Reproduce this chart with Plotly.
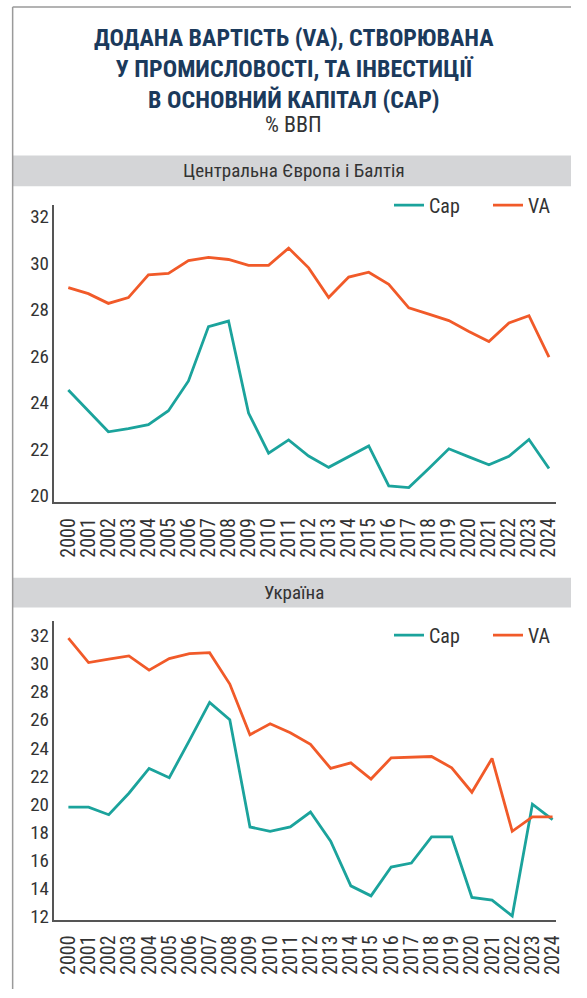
import plotly.graph_objects as go

# Years on the horizontal axis
years = list(range(2000, 2025))

# Central Europe and the Baltics, % of GDP
ceb_cap = [24.54, 23.65, 22.74, 22.88, 23.05, 23.65, 24.93, 27.27, 27.51, 23.55,
           21.82, 22.39, 21.70, 21.21, 21.66, 22.13, 20.41, 20.34, 21.16, 22.01,
           21.66, 21.32, 21.69, 22.41, 21.16]
ceb_va = [28.95, 28.69, 28.27, 28.52, 29.50, 29.56, 30.11, 30.25, 30.16, 29.91,
          29.91, 30.65, 29.80, 28.52, 29.40, 29.61, 29.09, 28.08, 27.81, 27.53,
          27.06, 26.63, 27.43, 27.74, 25.96]

# Ukraine, % of GDP
ua_cap = [19.79, 19.79, 19.25, 20.78, 22.54, 21.88, 24.54, 27.24, 26.00, 18.38,
          18.07, 18.38, 19.44, 17.36, 14.19, 13.48, 15.53, 15.81, 17.67, 17.67,
          13.37, 13.18, 12.05, 20.00, 18.90]
ua_va = [31.81, 30.07, 30.31, 30.54, 29.53, 30.35, 30.70, 30.77, 28.54, 24.94,
         25.72, 25.08, 24.26, 22.54, 22.94, 21.79, 23.29, 23.34, 23.39, 22.59,
         20.85, 23.25, 18.07, 19.09, 19.09]

ceb_ticks = list(range(20, 33, 2))
ua_ticks = list(range(12, 33, 2))

title_lines = ["ДОДАНА ВАРТІСТЬ (VA), СТВОРЮВАНА",
               "У ПРОМИСЛОВОСТІ, ТА ІНВЕСТИЦІЇ",
               "В ОСНОВНИЙ КАПІТАЛ (CAP)"]
subtitle = "% ВВП"
panel_titles = ["Центральна Європа і Балтія", "Україна"]

W, H = 587, 998
FONT = "Liberation Sans Narrow, Roboto Condensed, DejaVu Sans Condensed, Roboto, sans-serif"
TEAL = "#1ba39c"
ORANGE = "#f15a29"
NAVY = "#1b3a5c"
TXT = "#333333"


def py(p):
    return 1 - p / H


def px(p):
    return p / W


fig = go.Figure()

fig.add_trace(go.Scatter(x=years, y=ceb_cap, name="Cap", mode="lines",
                         line=dict(color=TEAL, width=2.8),
                         xaxis="x", yaxis="y", legend="legend"))
fig.add_trace(go.Scatter(x=years, y=ceb_va, name="VA", mode="lines",
                         line=dict(color=ORANGE, width=2.8),
                         xaxis="x", yaxis="y", legend="legend"))
fig.add_trace(go.Scatter(x=years, y=ua_cap, name="Cap", mode="lines",
                         line=dict(color=TEAL, width=2.8),
                         xaxis="x2", yaxis="y2", legend="legend2"))
fig.add_trace(go.Scatter(x=years, y=ua_va, name="VA", mode="lines",
                         line=dict(color=ORANGE, width=2.8),
                         xaxis="x2", yaxis="y2", legend="legend2"))

xdom = [px(56), px(572)]
axis_common = dict(showgrid=False, zeroline=False, showline=True,
                   linecolor="#555555", linewidth=1.5, ticks="",
                   tickfont=dict(family=FONT, size=19, color=TXT))

xaxis_common = dict(axis_common, tickmode="array", tickvals=years,
                    ticktext=[str(y) for y in years], tickangle=-90,
                    ticklabelstandoff=6,
                    tickfont=dict(family=FONT, size=20, color=TXT))

legend_common = dict(orientation="h", xanchor="left", yanchor="middle",
                     bgcolor="rgba(0,0,0,0)",
                     font=dict(family=FONT, size=20, color=TXT),
                     itemwidth=30, entrywidth=54)

fig.update_layout(
    width=W, height=H,
    margin=dict(l=0, r=0, t=0, b=0),
    paper_bgcolor="white", plot_bgcolor="white",
    xaxis=dict(xaxis_common, domain=xdom, range=[1999.31, 2024.37], anchor="y"),
    yaxis=dict(axis_common, domain=[py(507), py(207)], range=[19.7, 32.5],
               tickvals=ceb_ticks, anchor="x"),
    xaxis2=dict(xaxis_common, domain=xdom, range=[1999.31, 2024.19], anchor="y2"),
    yaxis2=dict(axis_common, domain=[py(928), py(627)], range=[11.79, 33.0],
                tickvals=ua_ticks, anchor="x2"),
    legend=dict(legend_common, x=px(400), y=py(207)),
    legend2=dict(legend_common, x=px(400), y=py(641)),
    showlegend=True,
)

shapes = [
    # outer frame
    dict(type="line", xref="paper", yref="paper", x0=px(13), x1=1,
         y0=py(7), y1=py(7), line=dict(color="#9a9a9a", width=1.5)),
    dict(type="line", xref="paper", yref="paper", x0=px(13), x1=px(13),
         y0=0, y1=py(7), line=dict(color="#9a9a9a", width=1.5)),
    # panel header bands
    dict(type="rect", xref="paper", yref="paper", x0=px(13), x1=1,
         y0=py(188), y1=py(157), fillcolor="#d4d5d7", line=dict(width=0),
         layer="below"),
    dict(type="rect", xref="paper", yref="paper", x0=px(13), x1=1,
         y0=py(613), y1=py(583), fillcolor="#d4d5d7", line=dict(width=0),
         layer="below"),
]
fig.update_layout(shapes=shapes)

title_html = "<br>".join(f"<b>{t}</b>" for t in title_lines)
annotations = [
    dict(text=title_html, x=px(302), y=py(70), xref="paper", yref="paper",
         showarrow=False, xanchor="center", yanchor="middle", align="center",
         font=dict(family=FONT, size=24, color=NAVY)),
    dict(text=subtitle, x=px(302), y=py(126), xref="paper", yref="paper",
         showarrow=False, xanchor="center", yanchor="middle",
         font=dict(family=FONT, size=22, color=TXT)),
]
for txt, yc in zip(panel_titles, [172, 598]):
    annotations.append(dict(text=txt, x=px(302), y=py(yc), xref="paper",
                            yref="paper", showarrow=False, xanchor="center",
                            yanchor="middle",
                            font=dict(family=FONT, size=19, color=TXT)))
fig.update_layout(annotations=annotations)

fig.write_html("out.html")
